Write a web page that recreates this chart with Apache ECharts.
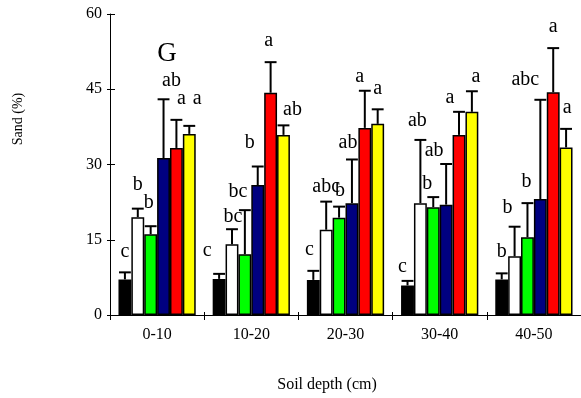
<!DOCTYPE html>
<html>
<head>
<meta charset="utf-8">
<script src="https://cdn.jsdelivr.net/npm/echarts@6/dist/echarts.min.js"></script>
<style>
  html, body { margin: 0; padding: 0; background: #ffffff; }
  #chart { width: 581px; height: 398px; }
</style>
</head>
<body>
<div id="chart"></div>
<script>
// Soil depth classes (cm)
const depths = ['0-10', '10-20', '20-30', '30-40', '40-50'];
const yTicks = [0, 15, 30, 45, 60];

// Mean sand content (%) per treatment
const sandBlack  = [7.1, 7.2, 7.0, 5.9, 7.1];
const sandWhite  = [19.5, 14.1, 17.0, 22.3, 11.7];
const sandGreen  = [16.1, 12.1, 19.4, 21.5, 15.5];
const sandNavy   = [31.3, 25.9, 22.3, 22.0, 23.1];
const sandRed    = [33.3, 44.3, 37.3, 35.9, 44.4];
const sandYellow = [36.1, 35.9, 38.1, 40.5, 33.4];

// Standard errors (%)
const seBlack  = [1.4, 1.0, 1.8, 0.9, 1.2];
const seWhite  = [1.7, 3.0, 5.6, 12.6, 5.9];
const seGreen  = [1.6, 8.8, 2.2, 2.0, 6.8];
const seNavy   = [11.7, 3.7, 8.7, 8.1, 19.8];
const seRed    = [5.6, 6.1, 7.4, 4.6, 8.8];
const seYellow = [1.6, 1.9, 2.9, 4.1, 3.7];

// Significance letters
const letBlack  = ['c', 'c', 'c', 'c', 'b'];
const letWhite  = ['b', 'bc', 'abc', 'ab', 'b'];
const letGreen  = ['b', 'bc', 'b', 'b', 'b'];
const letNavy   = ['ab', 'b', 'ab', 'ab', 'abc'];
const letRed    = ['a', 'a', 'a', 'a', 'a'];
const letYellow = ['a', 'ab', 'a', 'a', 'a'];

const panelLetter = 'G';

// Hand placement of letters [dx, dy] in px, to keep them clear of neighbours
const nudgeBlack  = [[0, 0], [-12, -2], [-4, 0], [-5, 7], [0, -1]];
const nudgeWhite  = [[0, -3], [1, 9], [0, 6], [-3, 2], [-7, 2]];
const nudgeGreen  = [[-2, -2], [-7, 3], [1, 5], [-6, 8], [-1, 0]];
const nudgeNavy   = [[8, 2], [-8, -3], [-4, 4], [-12, 8], [-15, 1]];
const nudgeRed    = [[5, 0], [-2, 0], [-5, 7], [-9, 7], [0, 0]];
const nudgeYellow = [[8, -6], [9, 5], [0, 0], [4, 6], [1, 0]];

const groups = [
  { color: '#000000', mean: sandBlack,  se: seBlack,  letters: letBlack,  nudge: nudgeBlack },
  { color: '#ffffff', mean: sandWhite,  se: seWhite,  letters: letWhite,  nudge: nudgeWhite },
  { color: '#00ff00', mean: sandGreen,  se: seGreen,  letters: letGreen,  nudge: nudgeGreen },
  { color: '#000080', mean: sandNavy,   se: seNavy,   letters: letNavy,   nudge: nudgeNavy },
  { color: '#ff0000', mean: sandRed,    se: seRed,    letters: letRed,    nudge: nudgeRed },
  { color: '#ffff00', mean: sandYellow, se: seYellow, letters: letYellow, nudge: nudgeYellow }
];

const SERIF = '"Liberation Serif", "Times New Roman", serif';
const CAT_GAP = 0.18;
const N = groups.length;

const chart = echarts.init(document.getElementById('chart'), null, { renderer: 'canvas' });

function barSeries(g) {
  return {
    type: 'bar',
    data: g.mean,
    barGap: '0%',
    barCategoryGap: (CAT_GAP * 100) + '%',
    itemStyle: { color: g.color, borderColor: '#000000', borderWidth: 1.5 },
    emphasis: { disabled: true },
    silent: true,
    z: 2
  };
}

function errorSeries(g, k) {
  return {
    type: 'custom',
    data: g.mean.map((m, i) => [i, m, m + g.se[i]]),
    silent: true,
    z: 5,
    renderItem(params, api) {
      const i = api.value(0);
      const catW = api.size([1, 0])[0];
      const barW = catW * (1 - CAT_GAP) / N;
      const base = api.coord([i, api.value(1)]);
      const top = api.coord([i, api.value(2)]);
      const x = base[0] + (k - (N - 1) / 2) * barW;
      const cap = barW / 2 - 0.5;
      const nd = g.nudge[i];
      return {
        type: 'group',
        children: [
          { type: 'line', shape: { x1: x, y1: base[1], x2: x, y2: top[1] },
            style: { stroke: '#000000', lineWidth: 2 } },
          { type: 'line', shape: { x1: x - cap, y1: top[1], x2: x + cap, y2: top[1] },
            style: { stroke: '#000000', lineWidth: 2 } },
          { type: 'text', x: x + nd[0], y: top[1] - 14 + nd[1] + 3,
            style: { text: g.letters[i], font: '20px ' + SERIF, fill: '#000000',
                     align: 'center', verticalAlign: 'bottom' } }
        ]
      };
    }
  };
}

const axisLabelStyle = { color: '#000000', fontFamily: SERIF, fontSize: 16 };

const option = {
  animation: false,
  backgroundColor: '#ffffff',
  grid: { left: 110, top: 14, width: 472, height: 301, containLabel: false },
  xAxis: [
    {
      type: 'category', data: depths, position: 'bottom',
      axisLine: { lineStyle: { color: '#000000', width: 1 } },
      axisTick: { show: true, length: 5, lineStyle: { color: '#000000' } },
      axisLabel: Object.assign({ margin: 12 }, axisLabelStyle),
      splitLine: { show: false }
    },
    {
      type: 'category', data: depths, position: 'bottom',
      axisLine: { show: false },
      axisTick: { show: true, inside: true, length: 3, lineStyle: { color: '#000000' } },
      axisLabel: { show: false },
      splitLine: { show: false }
    }
  ],
  yAxis: [
    {
      type: 'value', min: yTicks[0], max: yTicks[yTicks.length - 1],
      interval: yTicks[1] - yTicks[0], position: 'left',
      axisLine: { show: true, lineStyle: { color: '#000000', width: 1 } },
      axisTick: { show: true, length: 3, lineStyle: { color: '#000000' } },
      axisLabel: Object.assign({ margin: 8 }, axisLabelStyle),
      splitLine: { show: false }
    },
    {
      type: 'value', min: yTicks[0], max: yTicks[yTicks.length - 1],
      interval: yTicks[1] - yTicks[0], position: 'left',
      axisLine: { show: false },
      axisTick: { show: true, inside: true, length: 5, lineStyle: { color: '#000000' } },
      axisLabel: { show: false },
      splitLine: { show: false }
    }
  ],
  series: groups.map(barSeries).concat(groups.map(errorSeries)),
  graphic: [
    { type: 'text', x: 18, y: 119, rotation: Math.PI / 2,
      style: { text: 'Sand (%)', font: '14px ' + SERIF, fill: '#000000',
               align: 'center', verticalAlign: 'middle' } },
    { type: 'text', x: 327, y: 385,
      style: { text: 'Soil depth (cm)', font: '16px ' + SERIF, fill: '#000000',
               align: 'center', verticalAlign: 'middle' } },
    { type: 'text', x: 167, y: 54,
      style: { text: panelLetter, font: '27px ' + SERIF, fill: '#000000',
               align: 'center', verticalAlign: 'middle' } }
  ]
};

chart.setOption(option);
</script>
</body>
</html>
